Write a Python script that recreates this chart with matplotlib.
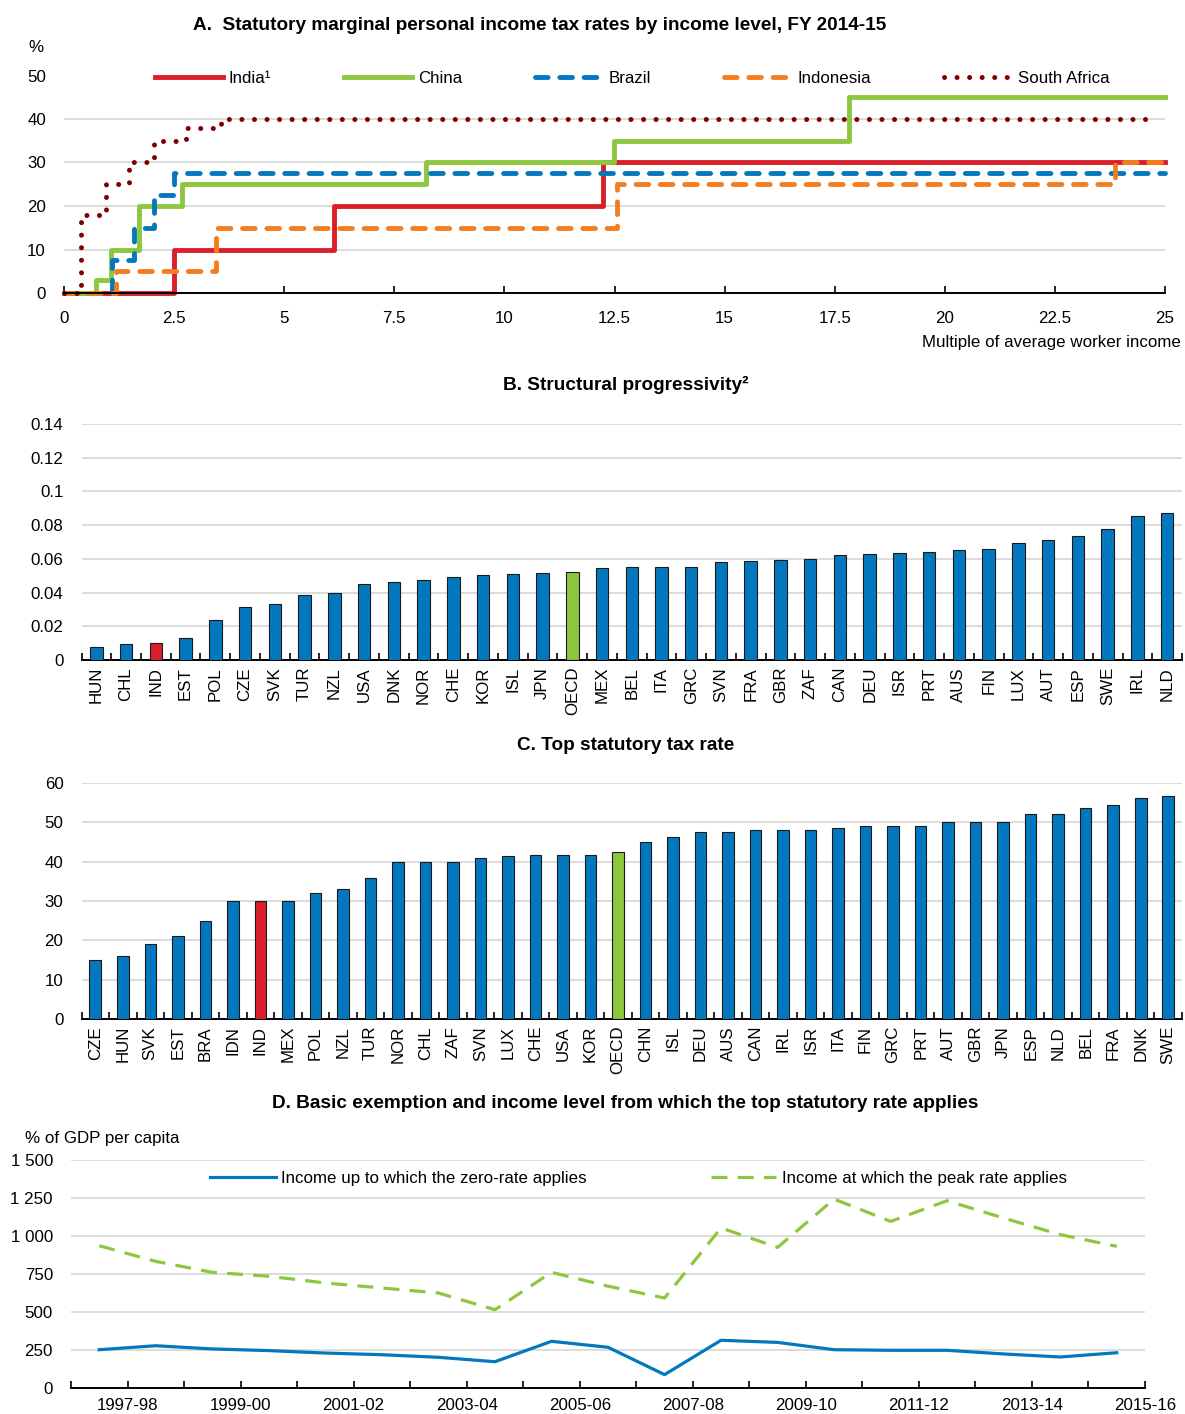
import matplotlib
matplotlib.use('Agg')
import matplotlib.pyplot as plt
import numpy as np

plt.rcParams['font.family'] = ['Liberation Sans Narrow', 'Liberation Sans', 'DejaVu Sans']
plt.rcParams['font.size'] = 12.2

# ---------------- Data ----------------
# Panel A: thresholds (multiple of average worker income) and marginal rates (%)
india_x = [0, 2.5, 6.14, 12.24, 25]
india_y = [0, 10, 20, 30, 30]
china_x = [0, 0.72, 1.06, 1.70, 2.69, 8.22, 12.49, 17.83, 25]
china_y = [0, 3, 10, 20, 25, 30, 35, 45, 45]
brazil_x = [0, 1.10, 1.59, 2.05, 2.50, 25]
brazil_y = [0, 7.5, 15, 22.5, 27.5, 27.5]
indonesia_x = [0, 1.17, 3.45, 12.56, 23.86, 25]
indonesia_y = [0, 5, 15, 25, 30, 30]
safrica_x = [0, 0.38, 0.95, 1.48, 2.05, 2.77, 3.56, 24.8]
safrica_y = [0, 18, 25, 30, 35, 38, 40, 40]
a_xticks = [0, 2.5, 5, 7.5, 10, 12.5, 15, 17.5, 20, 22.5, 25]
a_xticklabels = ['0', '2.5', '5', '7.5', '10', '12.5', '15', '17.5', '20', '22.5', '25']

# Panel B: structural progressivity
b_countries = ['HUN', 'CHL', 'IND', 'EST', 'POL', 'CZE', 'SVK', 'TUR', 'NZL', 'USA', 'DNK', 'NOR',
               'CHE', 'KOR', 'ISL', 'JPN', 'OECD', 'MEX', 'BEL', 'ITA', 'GRC', 'SVN', 'FRA', 'GBR',
               'ZAF', 'CAN', 'DEU', 'ISR', 'PRT', 'AUS', 'FIN', 'LUX', 'AUT', 'ESP', 'SWE', 'IRL', 'NLD']
b_values = [0.0077, 0.0095, 0.0099, 0.0131, 0.0238, 0.0313, 0.0331, 0.0384, 0.0396, 0.0450, 0.0463,
            0.0477, 0.0493, 0.0503, 0.0513, 0.0515, 0.0525, 0.0545, 0.0549, 0.0550, 0.0554, 0.0580,
            0.0586, 0.0594, 0.0600, 0.0622, 0.0626, 0.0634, 0.0642, 0.0651, 0.0659, 0.0695, 0.0709,
            0.0735, 0.0776, 0.0853, 0.0873]
b_yticks = [0, 0.02, 0.04, 0.06, 0.08, 0.1, 0.12, 0.14]
b_yticklabels = ['0', '0.02', '0.04', '0.06', '0.08', '0.1', '0.12', '0.14']

# Panel C: top statutory tax rate
c_countries = ['CZE', 'HUN', 'SVK', 'EST', 'BRA', 'IDN', 'IND', 'MEX', 'POL', 'NZL', 'TUR', 'NOR',
               'CHL', 'ZAF', 'SVN', 'LUX', 'CHE', 'USA', 'KOR', 'OECD', 'CHN', 'ISL', 'DEU', 'AUS',
               'CAN', 'IRL', 'ISR', 'ITA', 'FIN', 'GRC', 'PRT', 'AUT', 'GBR', 'JPN', 'ESP', 'NLD',
               'BEL', 'FRA', 'DNK', 'SWE']
c_values = [15, 16, 19, 21, 25, 30, 30, 30, 32, 33, 35.8, 40, 40, 40, 41, 41.4, 41.7, 41.8, 41.8,
            42.5, 45, 46.2, 47.5, 47.5, 48, 48, 48, 48.6, 49, 49, 49, 50, 50, 50, 52, 52, 53.6,
            54.5, 56.1, 56.6]
c_yticks = [0, 10, 20, 30, 40, 50, 60]

# Panel D: % of GDP per capita
d_years = ['1997-98', '1998-99', '1999-00', '2000-01', '2001-02', '2002-03', '2003-04', '2004-05',
           '2005-06', '2006-07', '2007-08', '2008-09', '2009-10', '2010-11', '2011-12', '2012-13',
           '2013-14', '2014-15', '2015-16']
d_zero = [252, 278, 257, 246, 230, 219, 202, 173, 307, 268, 88, 314, 300, 252, 248, 248, 224, 204, 232]
d_peak = [936, 833, 761, 735, 691, 658, 625, 515, 761, 670, 592, 1053, 925, 1243, 1096, 1232, 1118,
          1009, 932]
d_yticks = [0, 250, 500, 750, 1000, 1250, 1500]
d_yticklabels = ['0', '250', '500', '750', '1 000', '1 250', '1 500']

# ---------------- Style ----------------
BLUE = '#0478BE'
RED = '#DA1F2A'
GREEN = '#8DC63F'
ORANGE = '#F47D20'
DARKRED = '#7F0000'
GRID = '#D9D9D9'
FS = 12.2
TFS = 13.7

W, H = 1185, 1414
fig = plt.figure(figsize=(W / 100, H / 100), dpi=100)


def axes_px(left, right, top, bottom):
    return fig.add_axes([left / W, 1 - bottom / H, (right - left) / W, (bottom - top) / H])


def base_style(ax):
    for s in ['top', 'right', 'left']:
        ax.spines[s].set_visible(False)
    ax.spines['bottom'].set_linewidth(1.4)
    ax.spines['bottom'].set_color('black')
    ax.yaxis.grid(True, color=GRID, linewidth=1.3)
    ax.set_axisbelow(True)
    ax.tick_params(axis='y', length=0, pad=13, labelsize=FS)


# ---------------- Panel A ----------------
axA = axes_px(64, 1165, 75.5, 293)
base_style(axA)
lw = 3.5
l1, = axA.step(india_x, india_y, where='post', color=RED, lw=lw, clip_on=False, label='India\u00b9')
l2, = axA.step(china_x, china_y, where='post', color=GREEN, lw=lw, clip_on=False, label='China')
l3, = axA.step(brazil_x, brazil_y, where='post', color=BLUE, lw=lw, clip_on=False, label='Brazil',
               linestyle=(0, (2.6, 2.4)), dash_capstyle='round')
l4, = axA.step(indonesia_x, indonesia_y, where='post', color=ORANGE, lw=lw, clip_on=False,
               label='Indonesia', linestyle=(0, (2.6, 2.4)), dash_capstyle='round')
l5, = axA.step(safrica_x, safrica_y, where='post', color=DARKRED, lw=3.6, clip_on=False,
               label='South Africa', linestyle=(0, (0.01, 2.5)), dash_capstyle='round')
axA.set_xlim(0, 25)
axA.set_ylim(0, 50)
axA.set_yticks([0, 10, 20, 30, 40, 50])
axA.set_xticks(a_xticks)
axA.set_xticklabels(a_xticklabels)
axA.tick_params(axis='x', direction='in', length=5, width=1.2, pad=13, labelsize=FS)
legA = axA.legend(handles=[l1, l2, l3, l4, l5], loc='center', bbox_to_anchor=(0.516, 0.9885),
                  ncol=5, frameon=False, fontsize=FS, handlelength=4.0, handletextpad=0.35,
                  columnspacing=4.3, borderaxespad=0)
for t in legA.get_texts():
    t.set_bbox(dict(facecolor='white', edgecolor='none', pad=0.5))
fig.text(540 / W, 1 - 25 / H, 'A.  Statutory marginal personal income tax rates by income level, FY 2014-15',
         ha='center', va='center', fontsize=TFS, fontweight='bold')
fig.text(36 / W, 1 - 47 / H, '%', ha='center', va='center', fontsize=FS)
fig.text(1181 / W, 1 - 343 / H, 'Multiple of average worker income', ha='right', va='center', fontsize=FS)


def bar_panel(ax, cats, vals):
    n = len(cats)
    x = np.arange(n)
    cols = [RED if c == 'IND' else (GREEN if c == 'OECD' else BLUE) for c in cats]
    ax.bar(x, vals, width=0.42, color=cols, edgecolor='#1a1a1a', linewidth=0.8, zorder=3)
    ax.set_xlim(-0.5, n - 0.5)
    ax.set_xticks(x)
    ax.set_xticklabels(cats, rotation=90)
    ax.tick_params(axis='x', which='major', length=0, pad=5, labelsize=FS)
    ax.set_xticks(np.arange(-0.5, n, 1.0), minor=True)
    ax.tick_params(axis='x', which='minor', direction='in', length=5, width=1.2)


# ---------------- Panel B ----------------
axB = axes_px(81.5, 1182, 424, 660)
base_style(axB)
bar_panel(axB, b_countries, b_values)
axB.set_ylim(0, 0.14)
axB.set_yticks(b_yticks)
axB.set_yticklabels(b_yticklabels)
fig.text(626 / W, 1 - 385 / H, 'B. Structural progressivity\u00b2', ha='center', va='center',
         fontsize=TFS, fontweight='bold')

# ---------------- Panel C ----------------
axC = axes_px(81.5, 1182, 783, 1019)
base_style(axC)
bar_panel(axC, c_countries, c_values)
axC.set_ylim(0, 60)
axC.set_yticks(c_yticks)
fig.text(626 / W, 1 - 745 / H, 'C. Top statutory tax rate', ha='center', va='center',
         fontsize=TFS, fontweight='bold')

# ---------------- Panel D ----------------
axD = axes_px(71, 1145, 1160, 1388)
base_style(axD)
xd = np.arange(len(d_years))
lz, = axD.plot(xd, d_zero, color=BLUE, lw=2.3, label='Income up to which the zero-rate applies')
lp, = axD.plot(xd, d_peak, color=GREEN, lw=2.3, linestyle=(0, (5, 3.2)),
               label='Income at which the peak rate applies')
axD.set_xlim(-0.5, len(d_years) - 0.5)
axD.set_ylim(0, 1500)
axD.set_yticks(d_yticks)
axD.set_yticklabels(d_yticklabels)
bounds = np.arange(-0.5, len(d_years), 1.0)
axD.set_xticks(bounds)
labs = [''] * len(bounds)
for i in range(0, len(d_years), 2):
    labs[i + 1] = d_years[i]
axD.set_xticklabels(labs)
axD.tick_params(axis='x', direction='in', length=5, width=1.2, pad=7, labelsize=FS)
axD.legend(handles=[lz, lp], loc='center', bbox_to_anchor=(0.5285, 0.921), ncol=2, frameon=False,
           fontsize=FS, handlelength=3.85, handletextpad=0.35, columnspacing=7.3, borderaxespad=0)
fig.text(625 / W, 1 - 1103 / H,
         'D. Basic exemption and income level from which the top statutory rate applies',
         ha='center', va='center', fontsize=TFS, fontweight='bold')
fig.text(25 / W, 1 - 1138 / H, '% of GDP per capita', ha='left', va='center', fontsize=FS)

fig.savefig('out.png', dpi=100, facecolor='white')
